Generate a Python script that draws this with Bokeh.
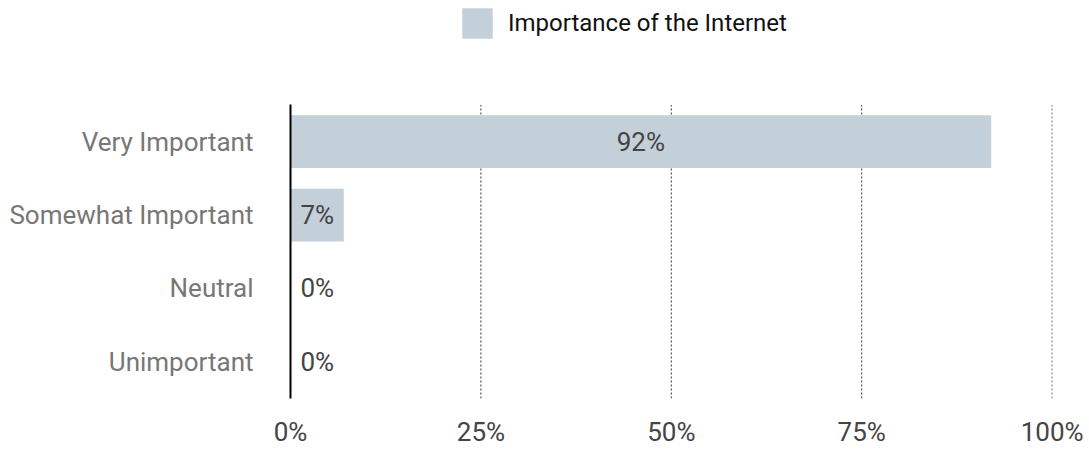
from bokeh.plotting import figure
from bokeh.models import ColumnDataSource, FixedTicker, Legend, LegendItem, Range1d
from bokeh.core.properties import value
from bokeh.embed import file_html
from bokeh.resources import INLINE

categories = ["Very Important", "Somewhat Important", "Neutral", "Unimportant"]
percent_values = [92, 7, 0, 0]
tick_values = [0, 25, 50, 75, 100]
tick_labels = ["0%", "25%", "50%", "75%", "100%"]
series_name = "Importance of the Internet"

FONT = "Roboto"
BAR_COLOR = "#c3cfd9"

n = len(categories)
ypos = [n - i for i in range(n)]          # top category drawn highest
bar_labels = [f"{v}%" for v in percent_values]
big = [v >= 15 for v in percent_values]

src = ColumnDataSource(data=dict(y=ypos, val=percent_values, label=bar_labels))
big_src = ColumnDataSource(data=dict(
    y=[y for y, b in zip(ypos, big) if b],
    mid=[v / 2 for v, b in zip(percent_values, big) if b],
    label=[l for l, b in zip(bar_labels, big) if b]))
small_src = ColumnDataSource(data=dict(
    y=[y for y, b in zip(ypos, big) if not b],
    zero=[0 for b in big if not b],
    label=[l for l, b in zip(bar_labels, big) if not b]))

# frame spans the full height above the x axis so the legend fits inside it
FRAME_H = 400
CAT_PX = 73.75
y_lo = 0.5
y_hi = y_lo + FRAME_H / CAT_PX

p = figure(width=1089, height=449,
           y_range=Range1d(y_lo, y_hi),
           x_range=Range1d(0, 100.05),
           output_backend="svg", toolbar_location=None,
           min_border_left=290, min_border_right=37,
           min_border_top=0, min_border_bottom=49)
p.outline_line_color = None

# dotted vertical guides over the category band only (drawn behind the bars)
grid_src = ColumnDataSource(data=dict(
    x=tick_values[1:],
    y0=[y_lo] * (len(tick_values) - 1),
    y1=[n + 0.5] * (len(tick_values) - 1)))
p.segment(x0="x", x1="x", y0="y0", y1="y1", source=grid_src,
          line_color="#333333", line_dash="2 2", line_width=1)

r = p.hbar(y="y", left=0, right="val", height=0.72, source=src,
           fill_color=BAR_COLOR, line_color=None)

p.text(x="mid", y="y", text="label", source=big_src,
       text_align="center", text_baseline="middle",
       text_font=value(FONT), text_font_size="26px", text_color="#444444")
p.text(x="zero", y="y", text="label", source=small_src, x_offset=10,
       text_align="left", text_baseline="middle",
       text_font=value(FONT), text_font_size="26px", text_color="#444444")

# axes
p.xaxis.ticker = FixedTicker(ticks=tick_values)
p.xaxis.major_label_overrides = {v: l for v, l in zip(tick_values, tick_labels)}
p.xaxis.axis_line_color = None
p.xaxis.major_tick_line_color = None
p.xaxis.minor_tick_line_color = None
p.xaxis.major_tick_out = 0
p.xaxis.major_tick_in = 0
p.xaxis.minor_tick_out = 0
p.xaxis.major_label_text_font = FONT
p.xaxis.major_label_text_font_size = "26px"
p.xaxis.major_label_text_color = "#444444"
p.xaxis.major_label_standoff = 18

p.yaxis.ticker = FixedTicker(ticks=ypos)
p.yaxis.major_label_overrides = {y: c for y, c in zip(ypos, categories)}
p.yaxis.bounds = (y_lo, n + 0.5)
p.yaxis.axis_line_color = "black"
p.yaxis.axis_line_width = 2
p.yaxis.major_tick_line_color = None
p.yaxis.minor_tick_line_color = None
p.yaxis.major_label_text_font = FONT
p.yaxis.major_label_text_font_size = "26px"
p.yaxis.major_label_text_color = "#777777"
p.yaxis.major_label_standoff = 31

p.xgrid.grid_line_color = None
p.ygrid.grid_line_color = None

GLYPH = 38
legend = Legend(items=[LegendItem(label=series_name, renderers=[r])],
                location=(168, FRAME_H - 6 - GLYPH), orientation="horizontal",
                glyph_width=GLYPH, glyph_height=GLYPH, label_standoff=12,
                padding=0, margin=0, spacing=0,
                border_line_color=None, background_fill_alpha=0,
                label_text_font=FONT, label_text_font_size="24px",
                label_text_color="#111111")
p.add_layout(legend)

open("out.html", "w").write(file_html(p, INLINE))
